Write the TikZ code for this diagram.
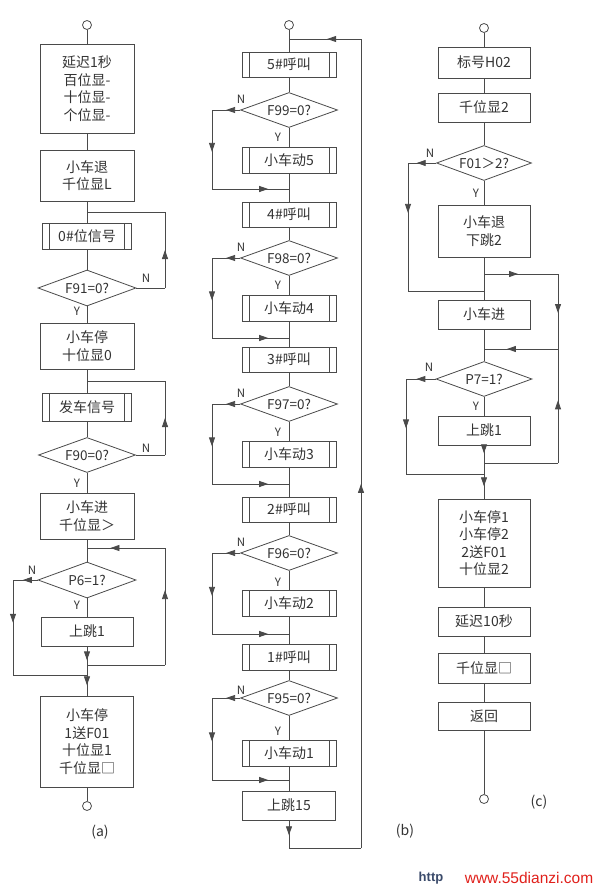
\documentclass[tikz,border=0pt]{standalone}
\usepackage{fontspec}
\setmainfont{Noto Sans CJK SC}
\newfontfamily\wmfont{Liberation Sans}
\usetikzlibrary{arrows.meta,shapes.geometric,decorations.markings}
\definecolor{inkgray}{HTML}{4A4A4A}
\definecolor{wmred}{HTML}{E0201B}
\definecolor{wmblue}{HTML}{3A4A6A}
\tikzset{
  fbox/.style={draw=inkgray, line width=0.8pt, minimum width=94pt, inner sep=0pt,
               align=center, text=black!80, font=\fontsize{14}{17.5}\selectfont},
  fsub/.style={fbox, path picture={
      \draw[inkgray, line width=0.8pt]
        ([xshift=7pt]path picture bounding box.north west) -- ([xshift=7pt]path picture bounding box.south west)
        ([xshift=-7pt]path picture bounding box.north east) -- ([xshift=-7pt]path picture bounding box.south east);}},
  fdec/.style={diamond, draw=inkgray, line width=0.8pt, aspect=3, inner sep=0pt,
               minimum width=97pt, minimum height=35pt, text=black!80, font=\fontsize{13.5}{14}\selectfont},
  fend/.style={circle, draw=inkgray, line width=0.8pt, minimum size=9pt, inner sep=0pt},
  flbl/.style={text=black!80, font=\fontsize{11.5}{12}\selectfont, inner sep=0pt},
  fline/.style={draw=inkgray, line width=0.8pt},
  midarr/.style={postaction={decorate}, decoration={markings,
                 mark=at position #1 with {\arrow[inkgray]{Triangle[length=9pt,width=6pt]}}}},
  midarr/.default=0.5
}
\begin{document}
\begin{tikzpicture}[x=1pt, y=-1pt]
\useasboundingbox (0,0) rectangle (599,894);
% ---- (a)
\node[fend] (sa) at (87,25) {};
\node[fbox, minimum height=89pt] (a1) at (87,88.5) {延迟1秒\\百位显-\\十位显-\\个位显-};
\node[fbox, minimum height=51pt] (a2) at (87,175.5) {小车退\\千位显L};
\node[fsub, minimum width=89pt, minimum height=26pt] (a3) at (87,236) {0\#位信号};
\node[fdec, minimum width=98pt, minimum height=36pt] (a4) at (87,288) {F91=0?};
\node[fbox, minimum height=46pt] (a5) at (87,346) {小车停\\十位显0};
\node[fsub, minimum width=89pt, minimum height=28pt] (a6) at (87,407) {发车信号};
\node[fdec] (a7) at (87,455) {F90=0?};
\node[fbox, minimum height=46pt] (a8) at (87,516) {小车进\\千位显＞};
\node[fdec, minimum width=98pt, minimum height=36pt] (a9) at (87,580) {P6=1?};
\node[fbox, minimum width=92pt, minimum height=29pt] (a10) at (87,631.5) {上跳1};
\node[fbox, minimum width=93pt, minimum height=91pt] (a11) at (87,741.5) {小车停\\1送F01\\十位显1\\千位显□};
\node[fend] (ea) at (87,806) {};
\node[flbl, font=\fontsize{14}{15}\selectfont] (capa) at (100,832) {(a)};
\draw[fline] (sa) -- (a1); \draw[fline] (a1) -- (a2); \draw[fline] (a2) -- (a3);
\draw[fline] (a3) -- (a4); \draw[fline] (a4) -- (a5); \draw[fline] (a5) -- (a6);
\draw[fline] (a6) -- (a7); \draw[fline] (a7) -- (a8); \draw[fline] (a8) -- (a9);
\draw[fline] (a9) -- (a10); \draw[fline] (a11) -- (ea);
\coordinate (a4r) at (165,288); \coordinate (a4t) at (165,212); \coordinate (ja1) at (87,212);
\draw[fline] (a4) -- (a4r);
\draw[fline, midarr] (a4r) -- (a4t);
\draw[fline] (a4t) -- (ja1);
\coordinate (a7r) at (165,455); \coordinate (a7t) at (165,381); \coordinate (ja2) at (87,381);
\draw[fline] (a7) -- (a7r);
\draw[fline, midarr] (a7r) -- (a7t);
\draw[fline] (a7t) -- (ja2);
\coordinate (ja3) at (87,548); \coordinate (a9rt) at (165,548);
\coordinate (a9rb) at (165,665); \coordinate (ja4) at (87,665);
\draw[fline, midarr=0.75] (a10) -- (ja4);
\draw[fline] (ja4) -- (a9rb);
\draw[fline, midarr=0.64] (a9rb) -- (a9rt);
\draw[fline, midarr=0.7] (a9rt) -- (ja3);
\coordinate (a9l) at (13,580); \coordinate (a9lb) at (13,675); \coordinate (ja5) at (87,675);
\draw[fline, midarr=0.6] (a9) -- (a9l);
\draw[fline, midarr=0.45] (a9l) -- (a9lb);
\draw[fline] (a9lb) -- (ja5);
\draw[fline] (ja4) -- (ja5);
\draw[fline, midarr] (ja5) -- (a11);
\node[flbl] (a4n) at (146,278) {N}; \node[flbl] (a4y) at (77,311) {Y};
\node[flbl] (a7n) at (146,448) {N}; \node[flbl] (a7y) at (77,483) {Y};
\node[flbl] (a9n) at (32,570) {N};  \node[flbl] (a9y) at (77,605) {Y};
% ---- (b)
\node[fend] (sb) at (289,25) {};
\node[fsub, minimum height=25pt] (b5c) at (289,64.5) {5\#呼叫};
\node[fdec] (d99) at (289,110) {F99=0?};
\node[fsub, minimum height=26pt] (b5m) at (289,160) {小车动5};
\node[fsub, minimum height=25pt] (b4c) at (289,214.5) {4\#呼叫};
\node[fdec] (d98) at (289,258) {F98=0?};
\node[fsub, minimum height=26pt] (b4m) at (289,308) {小车动4};
\node[fsub, minimum height=25pt] (b3c) at (289,359.5) {3\#呼叫};
\node[fdec] (d97) at (289,404) {F97=0?};
\node[fsub, minimum height=26pt] (b3m) at (289,454) {小车动3};
\node[fsub, minimum height=25pt] (b2c) at (289,509.5) {2\#呼叫};
\node[fdec] (d96) at (289,553) {F96=0?};
\node[fsub, minimum height=26pt] (b2m) at (289,603) {小车动2};
\node[fsub, minimum height=26pt] (b1c) at (289,657) {1\#呼叫};
\node[fdec] (d95) at (289,698) {F95=0?};
\node[fsub, minimum height=26pt] (b1m) at (289,753) {小车动1};
\node[fbox, minimum width=93pt, minimum height=29pt] (bj) at (289,805.5) {上跳15};
\node[flbl, font=\fontsize{14}{15}\selectfont] (capb) at (405,831) {(b)};
\draw[fline] (sb) -- (b5c); \draw[fline] (b5c) -- (d99); \draw[fline] (d99) -- (b5m);
\draw[fline] (b5m) -- (b4c); \draw[fline] (b4c) -- (d98); \draw[fline] (d98) -- (b4m);
\draw[fline] (b4m) -- (b3c); \draw[fline] (b3c) -- (d97); \draw[fline] (d97) -- (b3m);
\draw[fline] (b3m) -- (b2c); \draw[fline] (b2c) -- (d96); \draw[fline] (d96) -- (b2m);
\draw[fline] (b2m) -- (b1c); \draw[fline] (b1c) -- (d95); \draw[fline] (d95) -- (b1m);
\draw[fline] (b1m) -- (bj);
\coordinate (d99l) at (212,110); \coordinate (d99b) at (212,189); \coordinate (j99) at (289,189);
\draw[fline, midarr] (d99) -- (d99l);
\draw[fline, midarr=0.53] (d99l) -- (d99b);
\draw[fline, midarr=0.73] (d99b) -- (j99);
\coordinate (d98l) at (212,258); \coordinate (d98b) at (212,338); \coordinate (j98) at (289,338);
\draw[fline, midarr] (d98) -- (d98l);
\draw[fline, midarr=0.53] (d98l) -- (d98b);
\draw[fline, midarr=0.73] (d98b) -- (j98);
\coordinate (d97l) at (212,404); \coordinate (d97b) at (212,484); \coordinate (j97) at (289,484);
\draw[fline, midarr] (d97) -- (d97l);
\draw[fline, midarr=0.53] (d97l) -- (d97b);
\draw[fline, midarr=0.73] (d97b) -- (j97);
\coordinate (d96l) at (212,553); \coordinate (d96b) at (212,634); \coordinate (j96) at (289,634);
\draw[fline, midarr] (d96) -- (d96l);
\draw[fline, midarr=0.53] (d96l) -- (d96b);
\draw[fline, midarr=0.73] (d96b) -- (j96);
\coordinate (d95l) at (212,698); \coordinate (d95b) at (212,780); \coordinate (j95) at (289,780);
\draw[fline, midarr] (d95) -- (d95l);
\draw[fline, midarr=0.53] (d95l) -- (d95b);
\draw[fline, midarr=0.73] (d95b) -- (j95);
\node[flbl] (d99n) at (241,99) {N};  \node[flbl] (d99y) at (278,137) {Y};
\node[flbl] (d98n) at (241,247) {N};  \node[flbl] (d98y) at (278,285) {Y};
\node[flbl] (d97n) at (241,393) {N};  \node[flbl] (d97y) at (278,432) {Y};
\node[flbl] (d96n) at (241,542) {N};  \node[flbl] (d96y) at (278,582) {Y};
\node[flbl] (d95n) at (241,690) {N};  \node[flbl] (d95y) at (278,731) {Y};
\coordinate (bb) at (289,848); \coordinate (bbr) at (361,848);
\coordinate (btr) at (361,39); \coordinate (bt) at (289,39);
\draw[fline, midarr=0.54] (bj) -- (bb);
\draw[fline] (bb) -- (bbr);
\draw[fline, midarr=0.45] (bbr) -- (btr);
\draw[fline, midarr=0.47] (btr) -- (bt);
% ---- (c)
\node[fend] (sc) at (484,28) {};
\node[fbox, minimum width=92pt, minimum height=31pt] (c1) at (484,62.5) {标号H02};
\node[fbox, minimum width=92pt, minimum height=29pt] (c2) at (484,107.5) {千位显2};
\node[fdec, minimum width=95pt] (dc1) at (484,163) {F01＞2?};
\node[fbox, minimum width=92pt, minimum height=52pt] (c3) at (484,231) {小车退\\下跳2};
\node[fbox, minimum width=92pt, minimum height=29pt] (c4) at (484,314.5) {小车进};
\node[fdec, minimum width=96pt] (dc2) at (484,379) {P7=1?};
\node[fbox, minimum width=92pt, minimum height=29pt] (c5) at (484,430.5) {上跳1};
\node[fbox, minimum width=92pt, minimum height=88pt] (c6) at (484,543) {小车停1\\小车停2\\2送F01\\十位显2};
\node[fbox, minimum width=92pt, minimum height=29pt] (c7) at (484,621.5) {延迟10秒};
\node[fbox, minimum width=92pt, minimum height=30pt] (c8) at (484,668) {千位显□};
\node[fbox, minimum width=92pt, minimum height=28pt] (c9) at (484,716) {返回};
\node[fend] (ec) at (484,799) {};
\node[flbl, font=\fontsize{14}{15}\selectfont] (capc) at (539,802) {(c)};
\draw[fline] (sc) -- (c1); \draw[fline] (c1) -- (c2); \draw[fline] (c2) -- (dc1);
\draw[fline] (dc1) -- (c3); \draw[fline] (c4) -- (dc2); \draw[fline] (dc2) -- (c5);
\draw[fline] (c6) -- (c7); \draw[fline] (c7) -- (c8); \draw[fline] (c8) -- (c9);
\draw[fline] (c9) -- (ec);
\coordinate (dc1l) at (408,163); \coordinate (dc1b) at (408,291); \coordinate (jc1) at (484,291);
\draw[fline, midarr=0.69] (dc1) -- (dc1l);
\draw[fline, midarr=0.39] (dc1l) -- (dc1b);
\draw[fline] (dc1b) -- (jc1);
\coordinate (jc2) at (484,274); \coordinate (c3r) at (558,274); \coordinate (c4r) at (558,349);
\coordinate (jc3) at (484,349); \coordinate (c5r) at (558,463); \coordinate (jc4) at (484,463);
\draw[fline] (c3) -- (jc2);
\draw[fline] (jc2) -- (c4);
\draw[fline, midarr=0.46] (jc2) -- (c3r);
\draw[fline, midarr=0.52] (c3r) -- (c4r);
\draw[fline, midarr=0.69] (c4r) -- (jc3);
\draw[fline, midarr=0.45] (c5) -- (jc4);
\draw[fline] (jc4) -- (c5r);
\draw[fline, midarr=0.55] (c5r) -- (c4r);
\coordinate (dc2l) at (406,379); \coordinate (dc2b) at (406,474); \coordinate (jc5) at (484,474);
\draw[fline, midarr=0.65] (dc2) -- (dc2l);
\draw[fline, midarr=0.52] (dc2l) -- (dc2b);
\draw[fline] (dc2b) -- (jc5);
\draw[fline] (jc4) -- (jc5);
\draw[fline, midarr] (jc5) -- (c6);
\node[flbl] (dc1n) at (430,153) {N}; \node[flbl] (dc1y) at (476,193) {Y};
\node[flbl] (dc2n) at (429,367) {N}; \node[flbl] (dc2y) at (476,406) {Y};
% ---- watermark
\node[inner sep=0pt, text=wmblue, font=\wmfont\bfseries\fontsize{13}{14}\selectfont] (wmh) at (431,878) {http};
\node[inner sep=0pt, text=wmred, font=\wmfont\fontsize{15.5}{16}\selectfont] (wmw) at (529,878) {www.55dianzi.com};
\end{tikzpicture}
\end{document}
